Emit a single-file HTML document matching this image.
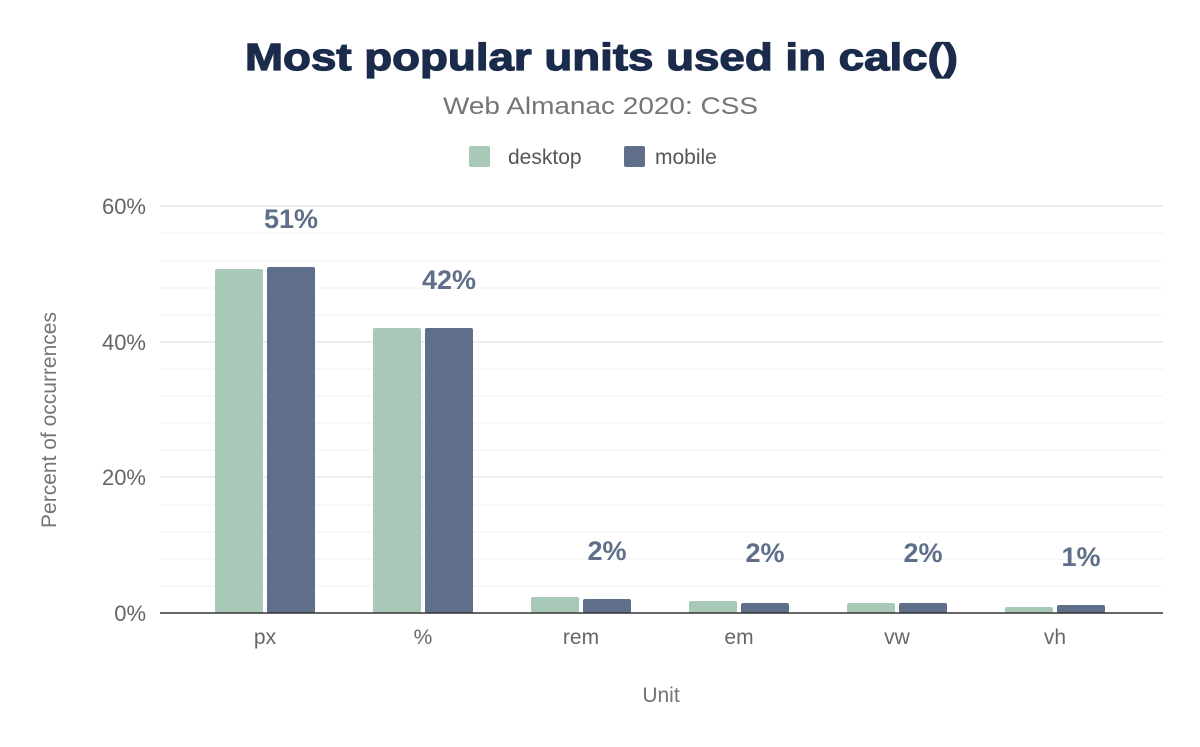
<!DOCTYPE html>
<html><head><meta charset="utf-8"><style>
body{margin:0;background:#fff;}
svg text{font-family:"Liberation Sans",sans-serif;}
</style></head><body>
<svg width="1200" height="742" viewBox="0 0 1200 742" xmlns="http://www.w3.org/2000/svg">
<rect width="1200" height="742" fill="#fff"/>
<text x="245" y="70" textLength="713" lengthAdjust="spacingAndGlyphs" font-size="38" font-weight="900" fill="#1a2b4b" stroke="#1a2b4b" stroke-width="1.2">Most popular units used in calc()</text>
<text x="443" y="114" textLength="315" lengthAdjust="spacingAndGlyphs" font-size="24" fill="#757575">Web Almanac 2020: CSS</text>
<rect x="469" y="146" width="21" height="21" rx="2" fill="#a8c8b8"/>
<text x="508" y="164" font-size="21" fill="#555">desktop</text>
<rect x="624" y="146" width="21" height="21" rx="2" fill="#5f6f8a"/>
<text x="655" y="164" font-size="21" fill="#555">mobile</text>
<g stroke="#f0f0f0" stroke-width="1">
<line x1="160" x2="1163" y1="233" y2="233"/><line x1="160" x2="1163" y1="261" y2="261"/><line x1="160" x2="1163" y1="288" y2="288"/><line x1="160" x2="1163" y1="315" y2="315"/>
<line x1="160" x2="1163" y1="369" y2="369"/><line x1="160" x2="1163" y1="396" y2="396"/><line x1="160" x2="1163" y1="423" y2="423"/><line x1="160" x2="1163" y1="450" y2="450"/>
<line x1="160" x2="1163" y1="505" y2="505"/><line x1="160" x2="1163" y1="532" y2="532"/><line x1="160" x2="1163" y1="559" y2="559"/><line x1="160" x2="1163" y1="586" y2="586"/>
</g>
<g stroke="#e4e4e4" stroke-width="1.3">
<line x1="160" x2="1163" y1="206" y2="206"/><line x1="160" x2="1163" y1="342" y2="342"/><line x1="160" x2="1163" y1="477" y2="477"/>
</g>
<g font-size="22" fill="#666" text-anchor="end">
<text x="146" y="214">60%</text><text x="146" y="350">40%</text><text x="146" y="485">20%</text><text x="146" y="621">0%</text>
</g>
<text transform="translate(56,420) rotate(-90)" text-anchor="middle" font-size="21" fill="#757575">Percent of occurrences</text>
<g>
<rect x="215" y="269" width="48" height="344" rx="2" fill="#a8c8b8"/><rect x="267" y="267" width="48" height="346" rx="2" fill="#5f6f8a"/>
<rect x="373" y="328" width="48" height="285" rx="2" fill="#a8c8b8"/><rect x="425" y="328" width="48" height="285" rx="2" fill="#5f6f8a"/>
<rect x="531" y="597" width="48" height="16" rx="2" fill="#a8c8b8"/><rect x="583" y="599" width="48" height="14" rx="2" fill="#5f6f8a"/>
<rect x="689" y="601" width="48" height="12" rx="2" fill="#a8c8b8"/><rect x="741" y="603" width="48" height="10" rx="2" fill="#5f6f8a"/>
<rect x="847" y="603" width="48" height="10" rx="2" fill="#a8c8b8"/><rect x="899" y="603" width="48" height="10" rx="2" fill="#5f6f8a"/>
<rect x="1005" y="607" width="48" height="6" rx="2" fill="#a8c8b8"/><rect x="1057" y="605" width="48" height="8" rx="2" fill="#5f6f8a"/>
</g>
<line x1="160" x2="1163" y1="613" y2="613" stroke="#333" stroke-width="1.5"/>
<g font-size="27" font-weight="bold" fill="#5f6f8a" text-anchor="middle">
<text x="291" y="228">51%</text><text x="449" y="289">42%</text><text x="607" y="560">2%</text><text x="765" y="562">2%</text><text x="923" y="562">2%</text><text x="1081" y="566">1%</text>
</g>
<g font-size="21" fill="#666" text-anchor="middle">
<text x="265" y="644">px</text><text x="423" y="644">%</text><text x="581" y="644">rem</text><text x="739" y="644">em</text><text x="897" y="644">vw</text><text x="1055" y="644">vh</text>
</g>
<text x="661" y="702" text-anchor="middle" font-size="21" fill="#757575">Unit</text>
</svg>
</body></html>
